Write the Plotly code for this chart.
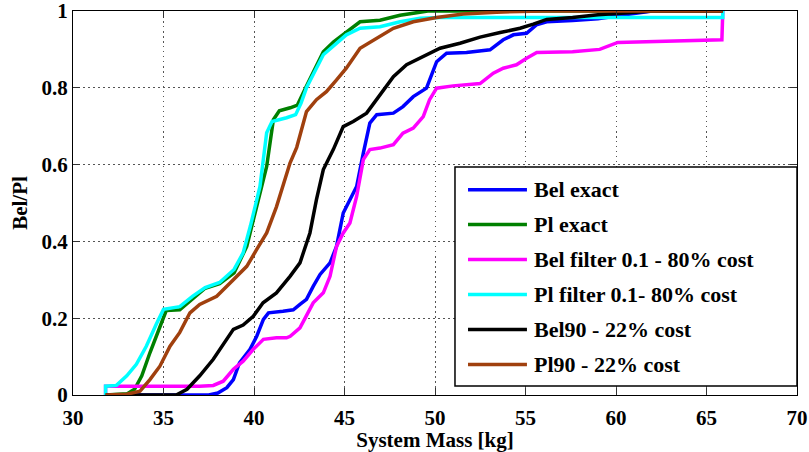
import plotly.graph_objects as go

# ---- data: cumulative belief / plausibility of system mass ----
bel_exact_x = [31.8, 37.5, 38.0, 38.5, 38.86, 39.2, 39.78, 40.15, 40.52, 40.8, 41.6, 42.17, 42.54,
               42.9, 43.27, 43.65, 44.2, 44.56, 44.93, 45.3, 45.67, 46.04, 46.4, 46.78, 47.7, 48.23,
               48.8, 49.53, 50.09, 50.64, 51.74, 53.04, 53.77, 54.33, 55.06, 55.6, 56.17, 57.6, 59.0,
               60.5, 62.0, 65.9]
bel_exact_y = [0, 0, 0.005, 0.019, 0.04, 0.084, 0.119, 0.153, 0.197, 0.214, 0.218, 0.222, 0.236,
               0.249, 0.283, 0.314, 0.344, 0.387, 0.474, 0.509, 0.543, 0.63, 0.708, 0.73, 0.734, 0.751,
               0.777, 0.799, 0.868, 0.89, 0.892, 0.899, 0.925, 0.938, 0.942, 0.964, 0.972, 0.975, 0.98,
               0.99, 1.0, 1.0]

pl_exact_x = [31.8, 33.0, 33.4, 33.8, 34.25, 34.8, 35.15, 35.9, 36.6, 37.3, 38.1, 38.9, 39.6, 40.15,
              40.7, 41.07, 41.4, 42.0, 42.4, 42.9, 43.83, 44.4, 45.1, 45.86, 46.96, 48.07, 49.17,
              49.6, 65.9]
pl_exact_y = [0, 0.003, 0.015, 0.05, 0.11, 0.18, 0.22, 0.222, 0.25, 0.278, 0.29, 0.318, 0.387, 0.49,
              0.595, 0.717, 0.74, 0.748, 0.755, 0.805, 0.894, 0.92, 0.946, 0.972, 0.976, 0.989, 0.997,
              1.0, 1.0]

bel_filter_x = [31.8, 31.8, 37.0, 37.75, 38.3, 38.86, 39.4, 39.96, 40.52, 41.24, 41.8, 42.0, 42.54,
                42.9, 43.27, 43.83, 44.2, 44.56, 44.93, 45.3, 45.67, 46.04, 46.4, 46.96, 47.7, 48.23,
                48.8, 49.35, 49.7, 50.09, 51.0, 52.49, 53.22, 53.77, 54.5, 55.06, 55.62, 57.6, 59.1,
                60.1, 62.4, 63.9, 65.85, 65.9]
bel_filter_y = [0, 0.023, 0.023, 0.025, 0.036, 0.067, 0.088, 0.119, 0.145, 0.149, 0.149, 0.153, 0.175,
                0.205, 0.24, 0.266, 0.309, 0.387, 0.422, 0.448, 0.517, 0.613, 0.639, 0.643, 0.652,
                0.682, 0.695, 0.725, 0.769, 0.799, 0.805, 0.811, 0.838, 0.851, 0.86, 0.877, 0.892,
                0.894, 0.9, 0.918, 0.92, 0.922, 0.925, 1.0]

pl_filter_x = [31.8, 31.8, 32.4, 32.97, 33.5, 34.05, 34.6, 35.0, 35.9, 36.6, 37.3, 38.1, 38.9, 39.4,
               39.8, 40.33, 40.7, 41.0, 41.8, 42.3, 42.6, 42.9, 43.83, 45.1, 45.86, 46.96, 48.07,
               49.17, 50.28, 65.9, 65.9]
pl_filter_y = [0, 0.023, 0.025, 0.05, 0.08, 0.127, 0.184, 0.223, 0.23, 0.257, 0.28, 0.293, 0.327, 0.37,
               0.44, 0.543, 0.683, 0.712, 0.722, 0.73, 0.76, 0.80, 0.886, 0.938, 0.955, 0.959, 0.972,
               0.981, 0.983, 0.983, 1.0]

bel90_x = [31.8, 35.7, 36.3, 37.0, 37.75, 38.5, 38.86, 39.4, 39.96, 40.5, 41.24, 41.99, 42.54, 43.09,
           43.45, 43.83, 44.38, 44.93, 45.48, 46.22, 46.96, 47.7, 48.43, 49.35, 50.28, 51.38, 52.49,
           53.6, 54.7, 55.43, 56.17, 57.6, 59.0, 60.5, 62.0, 65.9]
bel90_y = [0, 0, 0.015, 0.05, 0.093, 0.145, 0.171, 0.182, 0.205, 0.24, 0.266, 0.309, 0.344, 0.422,
           0.509, 0.587, 0.639, 0.699, 0.712, 0.734, 0.782, 0.829, 0.86, 0.881, 0.903, 0.916, 0.932,
           0.944, 0.955, 0.966, 0.978, 0.983, 0.99, 0.995, 1.0, 1.0]

pl90_x = [31.8, 32.97, 33.7, 34.25, 34.8, 35.36, 35.9, 36.46, 37.0, 37.94, 38.86, 39.6, 40.15, 40.7,
          41.24, 41.6, 41.99, 42.36, 42.9, 43.45, 44.0, 44.55, 45.1, 45.86, 46.78, 47.7, 48.8, 50.09,
          51.56, 53.4, 56.0, 65.9]
pl90_y = [0, 0.002, 0.01, 0.04, 0.075, 0.127, 0.163, 0.214, 0.236, 0.257, 0.30, 0.335, 0.379, 0.422,
          0.49, 0.543, 0.604, 0.645, 0.738, 0.769, 0.79, 0.82, 0.851, 0.903, 0.929, 0.955, 0.972,
          0.983, 0.992, 0.997, 1.0, 1.0]

series_names = ["Bel exact", "Pl exact", "Bel filter 0.1 - 80% cost",
                "Pl filter 0.1- 80% cost", "Bel90 - 22% cost", "Pl90 - 22% cost"]
series_colors = ["#0000FF", "#008000", "#FF00FF", "#00FFFF", "#000000", "#A0400E"]
series_x = [bel_exact_x, pl_exact_x, bel_filter_x, pl_filter_x, bel90_x, pl90_x]
series_y = [bel_exact_y, pl_exact_y, bel_filter_y, pl_filter_y, bel90_y, pl90_y]

x_ticks = [30, 35, 40, 45, 50, 55, 60, 65, 70]
y_ticks = [0, 0.2, 0.4, 0.6, 0.8, 1]
y_tick_text = ["0", "0.2", "0.4", "0.6", "0.8", "1"]

FONT = "Liberation Serif"

fig = go.Figure()
for name, color, xs, ys in zip(series_names, series_colors, series_x, series_y):
    fig.add_trace(go.Scatter(x=xs, y=ys, mode="lines", name=name,
                             line=dict(color=color, width=3.5), showlegend=False))

# boxed legend drawn in paper coordinates (long line samples)
leg_x0, leg_x1, leg_y0, leg_y1 = 0.5276, 1.0, 0.0234, 0.5937
fig.add_shape(type="rect", xref="paper", yref="paper", x0=leg_x0, x1=leg_x1, y0=leg_y0, y1=leg_y1,
              line=dict(color="black", width=1.5), fillcolor="white", layer="above")
row_top, row_step = 0.5347, 0.091
for i, (name, color) in enumerate(zip(series_names, series_colors)):
    yy = row_top - i * row_step
    fig.add_shape(type="line", xref="paper", yref="paper", x0=0.5456, x1=0.627, y0=yy, y1=yy,
                  line=dict(color=color, width=3.5), layer="above")
    fig.add_annotation(xref="paper", yref="paper", x=0.6345, y=yy, text="<b>%s</b>" % name,
                       showarrow=False, xanchor="left", yanchor="middle",
                       font=dict(family=FONT, size=22, color="black"))

axis_common = dict(showline=True, linecolor="black", linewidth=1, mirror="ticks",
                   ticks="inside", ticklen=7, tickcolor="#333", showgrid=True,
                   gridcolor="#555", gridwidth=1, griddash="1.5px,3.5px", zeroline=False,
                   automargin=False, ticklabeloverflow="allow",
                   tickfont=dict(family=FONT, size=21, color="black", weight="bold"))

fig.update_xaxes(range=[30, 70], tickvals=x_ticks, ticktext=[str(v) for v in x_ticks],
                 ticklabelstandoff=4,
                 title=dict(text="<b>System Mass [kg]</b>", standoff=2,
                            font=dict(family=FONT, size=21, color="black")),
                 **axis_common)
fig.update_yaxes(range=[0, 1], tickvals=y_ticks, ticktext=y_tick_text,
                 title=dict(text="<b>Bel/Pl</b>", standoff=8,
                            font=dict(family=FONT, size=21, color="black")),
                 **axis_common)

fig.update_layout(width=809, height=452, margin=dict(l=73, r=12, t=11, b=57),
                  plot_bgcolor="white", paper_bgcolor="white",
                  font=dict(family=FONT, color="black"))

fig.write_html("out.html")
